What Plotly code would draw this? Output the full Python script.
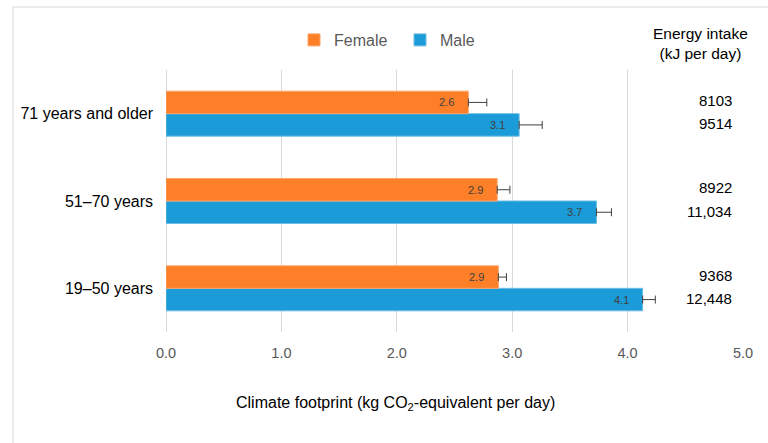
import plotly.graph_objects as go

categories = ["19–50 years", "51–70 years", "71 years and older"]
female = [2.88, 2.87, 2.62]
male = [4.13, 3.73, 3.06]
female_err = [0.07, 0.11, 0.16]
male_err = [0.11, 0.13, 0.20]
female_energy = ["9368", "8922", "8103"]
male_energy = ["12,448", "11,034", "9514"]
x_ticks = [0, 1, 2, 3, 4, 5]
x_ticklabels = ["0.0", "1.0", "2.0", "3.0", "4.0", "5.0"]

W, H = 768, 443
L, R, T, B = 166, 25, 70, 111
pw, ph = W - L - R, H - T - B

def px_x(p):
    return (p - L) / pw

def px_y(p):
    return (H - B - p) / ph

ORANGE = "#FD7F28"
BLUE = "#1B9BD7"
FONT = "Arial, Liberation Sans, sans-serif"

fig = go.Figure()
fig.add_trace(go.Bar(
    y=categories, x=male, name="Male", orientation="h",
    marker=dict(color=BLUE, line=dict(color="#6DBDE6", width=1)),
    error_x=dict(type="data", symmetric=False, array=male_err,
                 arrayminus=[0] * len(male), color="#404040", thickness=1, width=4),
    legendrank=2, hoverinfo="x+y",
))
fig.add_trace(go.Bar(
    y=categories, x=female, name="Female", orientation="h",
    marker=dict(color=ORANGE, line=dict(color="#FDA56A", width=1)),
    error_x=dict(type="data", symmetric=False, array=female_err,
                 arrayminus=[0] * len(female), color="#404040", thickness=1, width=4),
    legendrank=1, hoverinfo="x+y",
))

annotations = []
off = 11.25
for c, fv, mv, fe, me in zip(categories, female, male, female_energy, male_energy):
    annotations.append(dict(x=fv, y=c, xref="x", yref="y", yshift=off, xanchor="right",
                            xshift=-12, text=f"{fv:.1f}", showarrow=False,
                            font=dict(size=11, color="#404040", family=FONT)))
    annotations.append(dict(x=mv, y=c, xref="x", yref="y", yshift=-off, xanchor="right",
                            xshift=-12, text=f"{mv:.1f}", showarrow=False,
                            font=dict(size=11, color="#404040", family=FONT)))
    annotations.append(dict(x=5, y=c, xref="x", yref="y", yshift=off + 2, xanchor="right",
                            xshift=-9, text=fe, showarrow=False,
                            font=dict(size=15, color="#000000", family=FONT)))
    annotations.append(dict(x=5, y=c, xref="x", yref="y", yshift=-off + 1, xanchor="right",
                            xshift=-9, text=me, showarrow=False,
                            font=dict(size=15, color="#000000", family=FONT)))

annotations.append(dict(x=px_x(700), y=px_y(43), xref="paper", yref="paper",
                        text="Energy intake<br>(kJ per day)", showarrow=False,
                        xanchor="center", yanchor="middle", align="center",
                        font=dict(size=15.5, color="#000000", family=FONT)))
annotations.append(dict(x=px_x(395), y=px_y(403), xref="paper", yref="paper",
                        text="Climate footprint (kg CO<sub>2</sub>-equivalent per day)",
                        showarrow=False, xanchor="center", yanchor="middle",
                        font=dict(size=16, color="#000000", family=FONT)))

shapes = [
    dict(type="line", xref="paper", yref="paper", x0=px_x(13), x1=px_x(13),
         y0=px_y(7), y1=px_y(H + 5), line=dict(color="#D9D9D9", width=1)),
    dict(type="line", xref="paper", yref="paper", x0=px_x(13), x1=px_x(W + 5),
         y0=px_y(7), y1=px_y(7), line=dict(color="#D9D9D9", width=1)),
]

fig.update_layout(
    width=W, height=H,
    margin=dict(l=L, r=R, t=T, b=B),
    paper_bgcolor="white", plot_bgcolor="white",
    barmode="group", bargap=0.485, bargroupgap=0,
    font=dict(family=FONT, size=14, color="#000000"),
    showlegend=True,
    legend=dict(orientation="h", x=px_x(294), y=px_y(40), xanchor="left", yanchor="middle",
                font=dict(size=16, color="#595959", family=FONT),
                itemwidth=30, entrywidth=61, entrywidthmode="pixels",
                bgcolor="rgba(0,0,0,0)"),
    xaxis=dict(range=[0, 5], tickvals=x_ticks, ticktext=x_ticklabels,
               showgrid=True, gridcolor="#D9D9D9", gridwidth=1,
               zeroline=True, zerolinecolor="#D9D9D9", zerolinewidth=1,
               showline=False, ticks="", ticklabelstandoff=10,
               tickfont=dict(size=14.5, color="#595959", family=FONT), fixedrange=True),
    yaxis=dict(categoryorder="array", categoryarray=categories,
               showgrid=False, zeroline=False, showline=False, ticks="",
               ticklabelstandoff=12,
               tickfont=dict(size=16, color="#000000", family=FONT), fixedrange=True),
    annotations=annotations,
    shapes=shapes,
)

fig.write_html("out.html", config={"displayModeBar": False},
               post_script="document.body.style.margin='0';document.body.style.overflow='hidden';")
